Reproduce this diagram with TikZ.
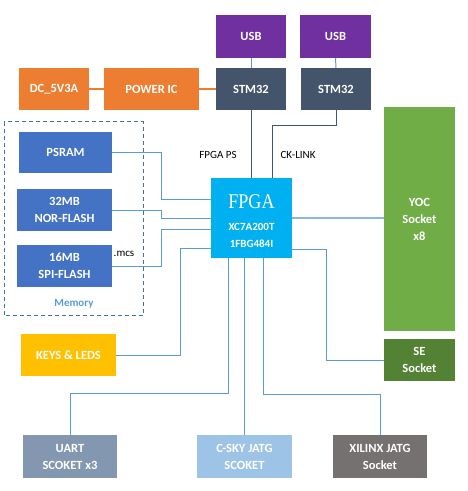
\documentclass[tikz,border=0pt]{standalone}
\usepackage{fontspec}
\setmainfont{Carlito}
\newfontfamily\fpgaserif{Liberation Serif}
\usetikzlibrary{calc}
\definecolor{cPurple}{HTML}{7030A0}
\definecolor{cSlate}{HTML}{44546A}
\definecolor{cOrange}{HTML}{ED7D31}
\definecolor{cBlue}{HTML}{4472C4}
\definecolor{cCyan}{HTML}{00B0F0}
\definecolor{cGreen}{HTML}{70AD47}
\definecolor{cDGreen}{HTML}{548235}
\definecolor{cGold}{HTML}{FFC000}
\definecolor{cUart}{HTML}{8497B0}
\definecolor{cSky}{HTML}{9DC3E6}
\definecolor{cGray}{HTML}{767171}
\definecolor{cLine}{HTML}{5B9BD5}
\definecolor{cDash}{HTML}{41719C}
\begin{document}
\begin{tikzpicture}[x=1pt,y=-1pt,
  box/.style={rectangle,draw=none,inner sep=0pt,align=center,text=white,
    font=\fontsize{12.5}{17}\selectfont\bfseries},
  wire/.style={draw=cLine,line width=1pt},
  dwire/.style={draw=cSlate,line width=1pt},
  owire/.style={draw=cOrange,line width=2pt},
  lbl/.style={inner sep=0pt,font=\fontsize{11}{12}\selectfont}]
\useasboundingbox (0,0) rectangle (468,491);
% boxes
\node[box,fill=cPurple,minimum width=70pt,minimum height=43pt] (USB1) at (251,36.5) {USB};
\node[box,fill=cPurple,minimum width=71pt,minimum height=43pt] (USB2) at (335.5,36.5) {USB};
\node[box,fill=cSlate,minimum width=70pt,minimum height=42pt] (STM1) at (251,89) {STM32};
\node[box,fill=cSlate,minimum width=70pt,minimum height=42pt] (STM2) at (336,89) {STM32};
\node[box,fill=cOrange,minimum width=70pt,minimum height=42pt] (DC) at (54,89) {DC\_5V3A};
\node[box,fill=cOrange,minimum width=95pt,minimum height=42pt] (PWR) at (151.5,89) {POWER IC};
\node[box,fill=cBlue,minimum width=93pt,minimum height=41pt] (PSRAM) at (65.5,152.5) {PSRAM};
\node[box,fill=cBlue,minimum width=95pt,minimum height=42pt] (NOR) at (64.5,210) {32MB\\NOR-FLASH};
\node[box,fill=cBlue,minimum width=95pt,minimum height=42pt] (SPI) at (64.5,266) {16MB\\SPI-FLASH};
\node[box,fill=cCyan,minimum width=81pt,minimum height=80pt] (FPGA) at (251.5,218) {};
\node[box,fill=cGreen,minimum width=71pt,minimum height=224pt] (YOC) at (419.5,219) {YOC\\Socket\\x8};
\node[box,fill=cDGreen,minimum width=71pt,minimum height=42pt] (SE) at (419.5,360) {SE\\Socket};
\node[box,fill=cGold,minimum width=95pt,minimum height=42pt] (KEYS) at (68.5,355) {KEYS \& LEDS};
\node[box,fill=cUart,minimum width=94pt,minimum height=43pt] (UART) at (70,456.5) {UART\\SCOKET x3};
\node[box,fill=cSky,minimum width=95pt,minimum height=43pt] (CSKY) at (244.5,456.5) {C-SKY JATG\\SCOKET};
\node[box,fill=cGray,minimum width=94pt,minimum height=43pt] (XIL) at (380,456.5) {XILINX JATG\\Socket};
% FPGA text
\node[inner sep=0pt,text=white,font=\fpgaserif\fontsize{19}{19}\selectfont] (fpgaT) at (251.5,202) {\scalebox{0.95}[1.1]{FPGA}};
\node[inner sep=0pt,text=white,font=\fontsize{11}{12}\selectfont\bfseries] (fpgaA) at (251.5,227) {XC7A200T};
\node[inner sep=0pt,text=white,font=\fontsize{11}{12}\selectfont\bfseries] (fpgaB) at (251.5,243.5) {1FBG484I};
% memory group
\draw[cDash,line width=1pt,dash pattern=on 4pt off 3pt] (4.3,121.7) rectangle (143.3,315.7);
\node[inner sep=0pt,text=cLine,font=\fontsize{11}{12}\selectfont\bfseries] (memlbl) at (74,304) {Memory};
% labels
\node[lbl] (fpgaps) at (218,154.5) {FPGA PS};
\node[lbl] (cklink) at (298,154.5) {CK-LINK};
\node[lbl] (mcs) at (124,254) {.mcs};
% coordinates
\coordinate (p1) at (161.7,199.3);
\coordinate (p2) at (161.7,218.3);
\coordinate (p3) at (161.7,229.3);
\coordinate (p4) at (180,248.3);
\coordinate (p5) at (326,249);
\coordinate (p6) at (228,393);
\coordinate (p7) at (263.7,394.3);
\coordinate (ck) at (272,125.3);
% connectors
\draw[owire] (DC.east) -- (PWR.west);
\draw[owire] (PWR.east) -- (STM1.west);
\draw[wire] (USB1.south) -- (STM1.north);
\draw[wire] (USB2.south) -- (STM2.north);
\draw[dwire] (STM1.south) -- (STM1.south |- FPGA.north);
\draw[dwire] (STM2.south) |- (ck) -- (ck |- FPGA.north);
\draw[wire] (PSRAM.east) -| (p1) -- (p1 -| FPGA.west);
\draw[wire] (NOR.east) -| (p2) -- (p2 -| FPGA.west);
\draw[wire] (SPI.east) -| (p3) -- (p3 -| FPGA.west);
\draw[wire] (p4 -| FPGA.west) -- (p4) |- (KEYS.east);
\draw[draw=cSky!70!cLine,line width=1.3pt] (FPGA.east) -- (FPGA.east -| YOC.west);
\draw[wire] (p5 -| FPGA.east) -- (p5) |- (SE.west);
\draw[wire] (p6 |- FPGA.south) -- (p6) -| (UART.north);
\draw[wire] (CSKY.north |- FPGA.south) -- (CSKY.north);
\draw[wire] (p7 |- FPGA.south) -- (p7) -| (XIL.north);
\end{tikzpicture}
\end{document}
